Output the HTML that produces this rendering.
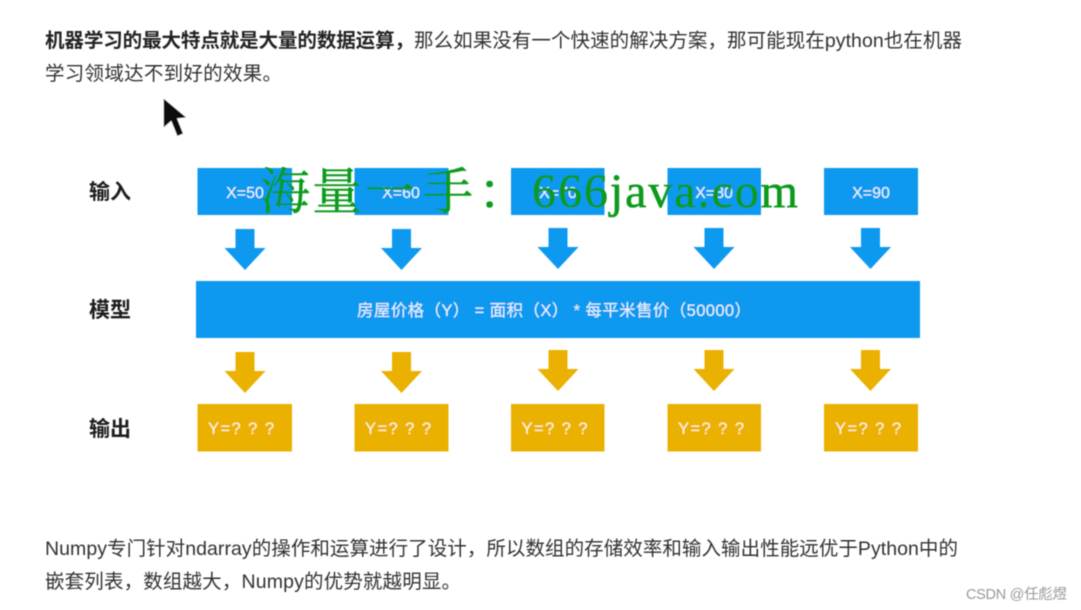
<!DOCTYPE html>
<html lang="zh">
<head>
<meta charset="utf-8">
<style>
html,body{margin:0;padding:0;background:#fff;width:1081px;height:610px;overflow:hidden}
svg{display:block;position:absolute;left:0;top:0}
text{font-family:"Liberation Sans","Noto Sans CJK SC",sans-serif}
.t{font-size:19.5px;fill:#333}
.b{font-size:21px;font-weight:700;fill:#1a1a1a}
.w{font-size:16px;fill:#eef7ff;text-anchor:middle}
.y{font-size:16.5px;fill:#fff6dc}
.wm{fill:#089a1c;stroke:#089a1c;stroke-width:.4;font-family:"Noto Serif CJK SC","Liberation Serif",serif;font-size:50px}
.wl{fill:#089a1c;stroke:#089a1c;stroke-width:.6;font-family:"Liberation Serif",serif;font-size:48px}
</style>
</head>
<body>
<svg width="1081" height="610" viewBox="0 0 1081 610" xmlns="http://www.w3.org/2000/svg">
<defs>
<filter id="s" x="-2%" y="-2%" width="104%" height="104%"><feGaussianBlur stdDeviation="0.5"/></filter>
<polygon id="ar" points="-9.5,0 9.5,0 9.5,19 20.5,19 0,41 -20.5,19 -9.5,19"/>
</defs>
<g filter="url(#s)">
<text class="t" x="45" y="47" textLength="369" lengthAdjust="spacing" style="font-weight:700;fill:#222">机器学习的最大特点就是大量的数据运算，</text>
<text class="t" x="414" y="47" textLength="548" lengthAdjust="spacing">那么如果没有一个快速的解决方案，那可能现在python也在机器</text>
<text class="t" x="45" y="80" textLength="237" lengthAdjust="spacing">学习领域达不到好的效果。</text>

<polygon points="163,97 163,129 171,122 177,137 184,134 178,119 188,118" fill="#111" stroke="#fff" stroke-width="1.5"/>

<text class="b" x="89" y="199">输入</text>
<text class="b" x="89" y="317">模型</text>
<text class="b" x="89" y="436">输出</text>

<g fill="#0d99f0">
<rect x="197.500" y="168" width="94.500" height="47"/>
<rect x="354.500" y="168" width="94" height="47"/>
<rect x="511" y="168" width="93.500" height="47"/>
<rect x="667.500" y="168" width="93.500" height="47"/>
<rect x="824" y="168" width="94" height="47"/>
<rect x="196" y="281" width="724" height="57"/>
<use href="#ar" x="245" y="229"/>
<use href="#ar" x="401.500" y="229"/>
<use href="#ar" x="558" y="228"/>
<use href="#ar" x="714" y="228"/>
<use href="#ar" x="870.500" y="228"/>
</g>

<text class="w" x="245" y="198">X=50</text>
<text class="w" x="401" y="198">X=60</text>
<text class="w" x="558" y="198">X=70</text>
<text class="w" x="714" y="198">X=80</text>
<text class="w" x="871" y="198">X=90</text>

<text x="357" y="316" font-size="16.500" fill="#e8f5ff" textLength="394" lengthAdjust="spacing">房屋价格（Y） = 面积（X） * 每平米售价（50000）</text>

<g fill="#ebb104">
<use href="#ar" x="245" y="352"/>
<use href="#ar" x="401.500" y="352"/>
<use href="#ar" x="558" y="350"/>
<use href="#ar" x="714" y="350"/>
<use href="#ar" x="870.500" y="350"/>
<rect x="197.500" y="404" width="94.500" height="47.500"/>
<rect x="354.500" y="404" width="94" height="47.500"/>
<rect x="511" y="404" width="93.500" height="47.500"/>
<rect x="667.500" y="404" width="93.500" height="47.500"/>
<rect x="824" y="404" width="94" height="47.500"/>
</g>

<text class="y" x="208" y="434" textLength="66" lengthAdjust="spacing">Y=? ? ?</text>
<text class="y" x="365" y="434" textLength="66" lengthAdjust="spacing">Y=? ? ?</text>
<text class="y" x="521.500" y="434" textLength="66" lengthAdjust="spacing">Y=? ? ?</text>
<text class="y" x="678" y="434" textLength="66" lengthAdjust="spacing">Y=? ? ?</text>
<text class="y" x="835" y="434" textLength="66" lengthAdjust="spacing">Y=? ? ?</text>

<text class="wm" x="260 312 365 423 478" y="209">海量一手：</text>
<text class="wl" x="532" y="207" textLength="266" lengthAdjust="spacing">666java.com</text>

<text class="t" x="45" y="555" textLength="913" lengthAdjust="spacing">Numpy专门针对ndarray的操作和运算进行了设计，所以数组的存储效率和输入输出性能远优于Python中的</text>
<text class="t" x="45" y="588" textLength="416" lengthAdjust="spacing">嵌套列表，数组越大，Numpy的优势就越明显。</text>

<text x="966" y="599" font-size="14.500px" fill="#999" textLength="101" lengthAdjust="spacing">CSDN @任彪煜</text>
</g>
</svg>
</body>
</html>
